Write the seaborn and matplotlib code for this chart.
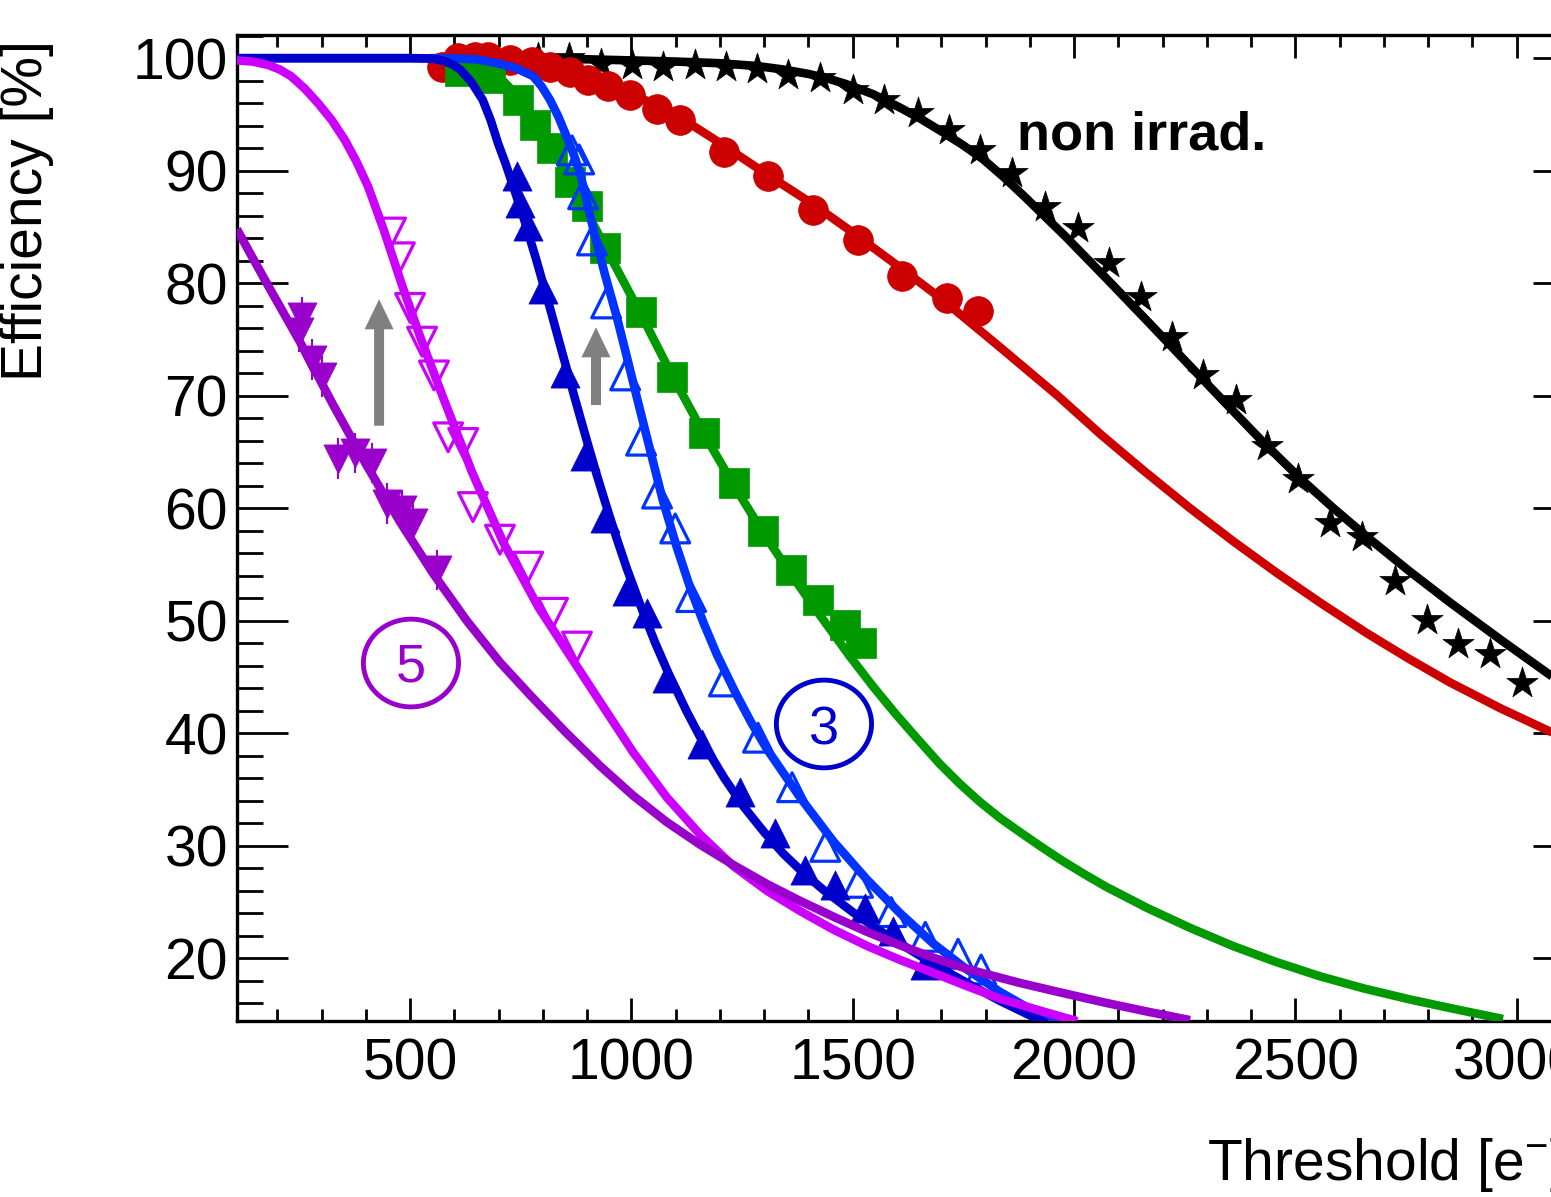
import matplotlib
matplotlib.use("Agg")
import matplotlib.pyplot as plt
import seaborn as sns
from matplotlib.patches import Ellipse, FancyArrow
from matplotlib.ticker import MultipleLocator

# values: threshold [e-] vs efficiency [%]
# non irradiated (black stars + fit)
star_x = [790, 860, 931, 1001, 1072, 1143, 1214, 1284, 1354, 1425, 1501, 1571, 1648, 1718, 1788, 1859,
          1935, 2008, 2080, 2151, 2221, 2292, 2366, 2436, 2506, 2579, 2650, 2725, 2797, 2868, 2940, 3012]
star_y = [100.0, 100.0, 99.5, 99.4, 99.2, 99.4, 99.2, 99.0, 98.5, 98.2, 97.2, 96.3, 95.1, 93.6, 91.8, 89.8,
          86.8, 84.9, 81.8, 78.8, 75.2, 71.8, 69.6, 65.5, 62.6, 58.7, 57.4, 53.5, 50.1, 47.9, 47.0, 44.5]
star_fit_x = [545, 900, 1100, 1200, 1284, 1342, 1400, 1443, 1485, 1546, 1607, 1654, 1700, 1748, 1795, 1842,
              1888, 1982, 2076, 2170, 2263, 2337, 2424, 2511, 2586, 2662, 2756, 2850, 2964, 3078, 3152]
star_fit_y = [100.0, 99.9, 99.7, 99.55, 99.3, 99.0, 98.6, 98.2, 97.7, 96.8, 95.6, 94.6, 93.5, 92.3, 91.0,
              89.4, 87.7, 84.1, 80.3, 76.45, 72.6, 69.55, 66.0, 62.65, 60.0, 57.45, 54.45, 51.6, 48.3, 45.1,
              43.1]

# red circles
red_x = [572, 608, 647, 676, 726, 775, 816, 861, 902, 947, 997, 1057, 1110, 1209, 1309, 1411, 1511, 1612,
         1713, 1783]
red_y = [99.2, 100.0, 100.1, 100.1, 99.8, 99.7, 99.2, 98.8, 98.1, 97.5, 96.7, 95.5, 94.5, 91.7, 89.5, 86.5,
         83.8, 80.6, 78.7, 77.5]
red_fit_x = [572, 700, 800, 881, 940, 1000, 1083, 1183, 1309, 1411, 1486, 1600, 1701, 1830, 1963, 2059, 2160,
             2262, 2360, 2458, 2560, 2661, 2755, 2850, 2964, 3078, 3152]
red_fit_y = [99.8, 99.4, 99.0, 98.4, 97.7, 96.8, 95.4, 92.9, 89.6, 87.0, 84.9, 81.6, 78.6, 74.4, 70.0, 66.6,
             63.25, 60.0, 57.05, 54.25, 51.5, 48.9, 46.65, 44.5, 42.2, 40.1, 38.9]

# green squares
grn_x = [613, 681, 744, 782, 821, 861, 900, 941, 1022, 1092, 1164, 1232, 1298, 1361, 1422, 1483, 1519]
grn_y = [98.9, 98.2, 96.3, 94.1, 92.0, 89.0, 86.9, 83.1, 77.4, 71.7, 66.7, 62.2, 58.0, 54.5, 51.8, 49.6, 48.0]
grn_fit_x = [560, 610, 650, 700, 744, 782, 821, 861, 900, 941, 1022, 1092, 1164, 1232, 1298, 1361, 1422,
             1494, 1545, 1595, 1645, 1696, 1742, 1787, 1833, 1878, 1926, 1974, 2022, 2070, 2166, 2262, 2358,
             2454, 2555, 2656, 2757, 2858, 2969]
grn_fit_y = [100.0, 99.8, 99.4, 98.4, 96.6, 94.4, 91.9, 89.1, 86.3, 83.2, 77.2, 71.8, 66.6, 62.0, 57.8, 54.1,
             50.7, 46.8, 44.2, 41.8, 39.55, 37.3, 35.5, 33.9, 32.45, 31.2, 29.9, 28.65, 27.5, 26.4, 24.45,
             22.7, 21.1, 19.7, 18.4, 17.3, 16.35, 15.5, 14.6]

# light blue open triangles
lb_x = [866, 882, 891, 911, 943, 986, 1022, 1058, 1099, 1135, 1209, 1286, 1363, 1438, 1512, 1587, 1664,
        1738, 1790]
lb_y = [91.8, 91.0, 87.9, 83.8, 78.2, 71.8, 66.0, 61.3, 58.2, 52.1, 44.6, 39.6, 35.2, 29.9, 26.7, 24.1, 21.9,
        20.4, 19.0]
lb_fit_x = [109, 500, 600, 650, 703, 740, 778, 797, 816, 835, 854, 869, 884, 914, 940, 967, 990, 1012, 1042,
            1071, 1102, 1133, 1163, 1193, 1235, 1270, 1306, 1381, 1456, 1532, 1607, 1682, 1758, 1833, 1900,
            1975]
lb_fit_y = [100.0, 100.0, 99.97, 99.9, 99.5, 99.1, 98.4, 97.5, 96.3, 94.8, 93.0, 91.5, 89.8, 84.8, 80.8,
            77.0, 73.4, 69.9, 65.2, 60.7, 56.6, 52.9, 49.8, 47.0, 43.6, 41.0, 38.6, 34.3, 30.4, 27.0, 24.0,
            21.3, 19.0, 17.0, 15.5, 14.1]

# dark blue filled triangles
db_x = [741, 749, 767, 801, 850, 895, 941, 990, 1035, 1080, 1159, 1246, 1325, 1393, 1460, 1528, 1591, 1664]
db_y = [89.5, 87.1, 85.1, 79.5, 72.0, 64.6, 59.1, 52.6, 50.7, 44.9, 39.0, 34.8, 31.1, 27.8, 26.5, 24.5,
        22.4, 19.4]
db_fit_x = [109, 500, 540, 560, 580, 597, 613, 638, 664, 682, 699, 716, 733, 759, 785, 816, 846, 872, 895,
            920, 941, 966, 990, 1022, 1053, 1084, 1124, 1164, 1210, 1255, 1300, 1343, 1388, 1433, 1500, 1555,
            1607, 1682, 1758, 1833, 1938]
db_fit_y = [100.0, 100.0, 99.97, 99.9, 99.7, 99.4, 99.0, 97.9, 96.3, 94.5, 92.4, 90.6, 88.6, 85.5, 82.1,
            77.8, 73.5, 69.8, 66.6, 63.2, 60.5, 57.4, 54.6, 51.2, 48.1, 45.3, 42.0, 39.0, 36.0, 33.4, 31.2,
            29.3, 27.6, 26.1, 24.1, 22.6, 21.3, 19.5, 17.8, 16.2, 14.2]

# magenta open down triangles
mg_x = [457, 477, 500, 527, 554, 586, 620, 642, 703, 767, 823, 877]
mg_y = [84.5, 82.3, 77.8, 74.8, 71.8, 66.3, 65.8, 60.1, 57.2, 54.8, 50.7, 47.7]
mg_fit_x = [109, 144, 179, 205, 231, 262, 292, 323, 353, 379, 405, 440, 482, 525, 577, 640, 710, 790, 861,
            929, 1004, 1080, 1155, 1230, 1306, 1381, 1456, 1532, 1607, 1682, 1758, 1833, 1920, 2007]
mg_fit_y = [99.8, 99.7, 99.4, 99.0, 98.4, 97.3, 96.0, 94.5, 92.7, 90.8, 88.6, 84.8, 79.8, 75.0, 69.6, 63.2,
            57.0, 51.2, 46.9, 42.8, 38.3, 34.3, 31.0, 28.2, 26.0, 24.2, 22.55, 21.1, 19.85, 18.7, 17.52, 16.4,
            15.38, 14.4]

# purple filled down triangles (with errors)
pu_x = [248, 255, 278, 300, 338, 376, 413, 447, 481, 507, 560]
pu_y = [75.7, 77.0, 73.2, 71.7, 64.4, 64.9, 64.0, 60.4, 59.8, 58.7, 54.5]
pu_err = [1.8] * len(pu_x)
pu_fit_x = [109, 131, 179, 251, 326, 402, 477, 552, 628, 703, 771, 850, 929, 1004, 1080, 1155, 1230, 1306,
            1381, 1456, 1532, 1607, 1682, 1758, 1878, 1970, 2070, 2166, 2262]
pu_fit_y = [84.8, 83.2, 79.8, 74.8, 69.2, 63.8, 58.8, 54.2, 50.0, 46.3, 43.4, 40.15, 37.1, 34.45, 32.1, 30.1,
            28.3, 26.6, 25.1, 23.7, 22.35, 21.15, 20.05, 19.05, 17.8, 16.95, 16.05, 15.25, 14.5]

BLACK, RED, GREEN = '#000000', '#cc0000', '#009900'
LBLUE, DBLUE = '#0033ff', '#0000cc'
MAGENTA, PURPLE, GREY = '#cc00ff', '#9900cc', '#808080'

sns.set_style("ticks")
plt.rcParams['font.family'] = ['Liberation Sans', 'DejaVu Sans']
plt.rcParams['mathtext.default'] = 'regular'
plt.rcParams['text.color'] = 'black'

fig = plt.figure(figsize=(15.51, 11.97), dpi=100)
# axes run past the right edge of the picture, as in the cropped original
ax = fig.add_axes([237 / 1551, 176 / 1197, 1347 / 1551, 986 / 1197])

LW = 6.2


def fit_line(x, y, color, z):
    sns.lineplot(x=x, y=y, sort=False, estimator=None, color=color, linewidth=LW,
                 solid_capstyle='butt', ax=ax, zorder=z)


def points(x, y, marker, color, s, z, hollow=False):
    if hollow:
        sns.scatterplot(x=x, y=y, marker=marker, s=s, facecolor='none', edgecolor=color,
                        linewidth=2.3, ax=ax, zorder=z)
    else:
        sns.scatterplot(x=x, y=y, marker=marker, s=s, color=color, edgecolor=color,
                        linewidth=0.5, ax=ax, zorder=z)


fit_line(star_fit_x, star_fit_y, BLACK, 2)
points(star_x, star_y, '*', BLACK, 560, 3)
fit_line(red_fit_x, red_fit_y, RED, 4)
points(red_x, red_y, 'o', RED, 460, 5)
fit_line(grn_fit_x, grn_fit_y, GREEN, 6)
points(grn_x, grn_y, 's', GREEN, 450, 7)
points(lb_x, lb_y, '^', LBLUE, 430, 8, hollow=True)
fit_line(lb_fit_x, lb_fit_y, LBLUE, 9)
points(db_x, db_y, '^', DBLUE, 440, 10)
fit_line(db_fit_x, db_fit_y, DBLUE, 11)
points(mg_x, mg_y, 'v', MAGENTA, 430, 12, hollow=True)
fit_line(mg_fit_x, mg_fit_y, MAGENTA, 13)
ax.errorbar(pu_x, pu_y, yerr=pu_err, fmt='none', ecolor=PURPLE, elinewidth=1.5, capsize=0, zorder=14)
points(pu_x, pu_y, 'v', PURPLE, 440, 15)
fit_line(pu_fit_x, pu_fit_y, PURPLE, 16)

# annotations
ax.text(1872, 91.84, 'non irrad.', fontsize=39, fontweight='bold', color=BLACK,
        ha='left', va='baseline', zorder=20)
ax.add_patch(Ellipse((502, 46.24), width=215, height=7.8, fill=False, edgecolor=PURPLE, lw=3.5, zorder=20))
ax.text(502, 44.6, '5', color=PURPLE, fontsize=39, ha='center', va='baseline', zorder=20)
ax.add_patch(Ellipse((1435, 40.82), width=215, height=7.8, fill=False, edgecolor=DBLUE, lw=3.5, zorder=20))
ax.text(1435, 39.0, '3', color=DBLUE, fontsize=39, ha='center', va='baseline', zorder=20)
for ax_x, y0, y1 in [(430, 67.33, 78.57), (920, 69.17, 76.08)]:
    ax.add_patch(FancyArrow(ax_x, y0, 0, y1 - y0, width=22.6, head_width=65.5, head_length=2.67,
                            length_includes_head=True, color=GREY, lw=0, zorder=20))

ax.set_xlim(109, 3152)
ax.set_ylim(14.42, 102.06)
ax.xaxis.set_major_locator(MultipleLocator(500))
ax.xaxis.set_minor_locator(MultipleLocator(100))
ax.yaxis.set_major_locator(MultipleLocator(10))
ax.yaxis.set_minor_locator(MultipleLocator(2))
ax.tick_params(which='both', direction='in', top=True, right=True, width=2, color='black',
               labelcolor='black', labelsize=41)
ax.tick_params(axis='x', which='major', length=16.5, pad=12)
ax.tick_params(axis='x', which='minor', length=8.6)
ax.tick_params(axis='y', which='major', length=36.7, pad=6.5)
ax.tick_params(axis='y', which='minor', length=18.7)
for sp in ax.spines.values():
    sp.set_linewidth(2.4)
    sp.set_color('black')

ax.set_xlabel('')
ax.set_ylabel('')
ax.text(-0.1559, 0.995, 'Efficiency [%]', transform=ax.transAxes, rotation=90,
        ha='center', va='top', fontsize=41, color=BLACK)
ax.text(0.720, -0.1613, 'Threshold [e$^{-}$]', transform=ax.transAxes,
        ha='left', va='baseline', fontsize=41, color=BLACK)

fig.savefig('out.png', dpi=100)
